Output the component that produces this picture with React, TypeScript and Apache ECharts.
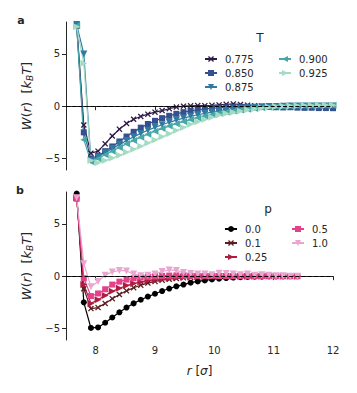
import React, { useEffect, useRef } from "react";
import * as echarts from "echarts";

// r grid (in units of sigma)
const rA = [7.68, 7.80, 7.92, 8.04, 8.16, 8.28, 8.40, 8.52, 8.64, 8.76, 8.88, 9.00, 9.12, 9.24, 9.36, 9.48, 9.60, 9.72, 9.84, 9.96, 10.08, 10.20, 10.32, 10.44, 10.56, 10.68, 10.80, 10.92, 11.04, 11.16, 11.28, 11.40, 11.52, 11.64, 11.76, 11.88, 12.00];
const rB = [7.68, 7.80, 7.92, 8.04, 8.16, 8.28, 8.40, 8.52, 8.64, 8.76, 8.88, 9.00, 9.12, 9.24, 9.36, 9.48, 9.60, 9.72, 9.84, 9.96, 10.08, 10.20, 10.32, 10.44, 10.56, 10.68, 10.80, 10.92, 11.04, 11.16, 11.28, 11.40];

// Panel a: temperature series
const tNames = ["0.775", "0.850", "0.875", "0.900", "0.925"];
const W_T0775 = [7.8, -1.8, -4.5, -4.3, -3.6, -2.85, -2.2, -1.65, -1.25, -0.98, -0.76, -0.57, -0.42, -0.24, -0.08, 0.0, 0.04, 0.06, 0.05, 0.08, 0.12, 0.18, 0.22, 0.16, 0.1, 0.04, 0.0, -0.02, 0.03, 0.05, -0.02, -0.05, -0.08, -0.1, -0.12, -0.12, -0.13];
const W_T0850 = [7.7, -2.5, -5.0, -4.75, -4.3, -3.85, -3.37, -2.9, -2.45, -2.05, -1.7, -1.4, -1.14, -0.92, -0.73, -0.57, -0.44, -0.34, -0.26, -0.2, -0.15, -0.11, -0.08, -0.06, -0.05, -0.07, -0.04, -0.08, -0.1, -0.12, -0.1, -0.14, -0.16, -0.15, -0.18, -0.18, -0.19];
const W_T0875 = [7.8, 5.0, -5.2, -4.85, -4.45, -4.05, -3.65, -3.28, -2.93, -2.6, -2.3, -2.02, -1.77, -1.54, -1.33, -1.14, -0.97, -0.82, -0.68, -0.56, -0.45, -0.36, -0.28, -0.21, -0.16, -0.11, -0.07, -0.04, -0.02, 0.0, 0.01, 0.02, 0.02, 0.03, 0.02, 0.03, 0.03];
const W_T0900 = [7.7, -3.2, -5.3, -5.0, -4.65, -4.3, -3.95, -3.6, -3.28, -2.97, -2.68, -2.4, -2.14, -1.9, -1.68, -1.47, -1.28, -1.1, -0.94, -0.8, -0.67, -0.55, -0.45, -0.36, -0.28, -0.21, -0.15, -0.1, -0.06, -0.03, 0.0, 0.02, 0.03, 0.04, 0.05, 0.06, 0.06];
const W_T0925 = [7.6, 4.1, -5.2, -5.4, -5.2, -4.95, -4.7, -4.4, -4.12, -3.83, -3.52, -3.22, -2.92, -2.63, -2.33, -2.03, -1.73, -1.48, -1.26, -1.05, -0.85, -0.7, -0.57, -0.45, -0.34, -0.25, -0.17, -0.09, -0.03, 0.0, 0.03, 0.05, 0.06, 0.07, 0.08, 0.08, 0.09];

// Panel b: p series
const pNames = ["0.0", "0.1", "0.25", "0.5", "1.0"];
const W_P00 = [7.9, -2.5, -4.95, -4.9, -4.45, -3.95, -3.45, -3.0, -2.6, -2.25, -1.95, -1.68, -1.42, -1.18, -0.97, -0.8, -0.62, -0.5, -0.4, -0.31, -0.24, -0.18, -0.13, -0.09, -0.07, -0.05, -0.04, -0.03, -0.02, -0.02, -0.01, -0.01];
const W_P01 = [7.6, -1.2, -3.1, -3.0, -2.6, -2.15, -1.75, -1.4, -1.1, -0.86, -0.66, -0.5, -0.38, -0.29, -0.22, -0.16, -0.12, -0.09, -0.07, -0.05, -0.04, -0.03, -0.03, -0.02, -0.02, -0.01, -0.01, -0.01, 0.0, 0.0, 0.0, 0.0];
const W_P025 = [7.5, -0.8, -2.6, -2.25, -1.85, -1.45, -1.15, -0.9, -0.7, -0.55, -0.42, -0.33, -0.26, -0.2, -0.15, -0.11, -0.08, -0.06, -0.05, -0.04, -0.03, -0.02, -0.02, -0.01, -0.01, 0.0, 0.0, 0.01, 0.0, 0.0, 0.0, 0.0];
const W_P05 = [7.4, -0.2, -1.9, -1.65, -1.25, -0.8, -0.52, -0.33, -0.2, -0.12, -0.06, -0.02, 0.03, 0.06, 0.08, 0.06, 0.05, 0.04, 0.03, 0.03, 0.02, 0.02, 0.02, 0.01, 0.01, 0.0, 0.01, 0.0, 0.0, 0.0, 0.0, 0.0];
const W_P10 = [7.5, 1.2, -1.0, -0.5, 0.1, 0.4, 0.55, 0.5, 0.2, 0.05, 0.1, 0.22, 0.45, 0.6, 0.55, 0.35, 0.25, 0.2, 0.22, 0.15, 0.28, 0.25, 0.2, 0.15, 0.2, 0.1, 0.15, 0.1, 0.05, 0.05, 0.0, 0.0];

const xTicks = [8, 9, 10, 11, 12];
const yTicks = [-5, 0, 5];

const FONT = "DejaVu Sans";
const TXT = "#262626";
const X_SYM = "path://M0,1.5L1.5,0L5,3.5L8.5,0L10,1.5L6.5,5L10,8.5L8.5,10L5,6.5L1.5,10L0,8.5L3.5,5Z";
const DOWN = "path://M0,0L10,0L5,9Z";
const LEFT = "path://M0,5L9,0L9,10Z";
const RIGHT = "path://M0,0L9,5L0,10Z";

const tColors = ["#2d1b45", "#34508e", "#2f7aa0", "#47a6a8", "#a4dbc3"];
const tSymbols = [X_SYM, "rect", DOWN, LEFT, RIGHT];
const tSizes = [6, 6, 7, 7, 7];
const tData = [W_T0775, W_T0850, W_T0875, W_T0900, W_T0925];

const pColors = ["#000000", "#5a1d1d", "#b01c3f", "#e2428a", "#e8a6d1"];
const pSymbols = ["circle", X_SYM, RIGHT, "rect", DOWN];
const pSizes = [6, 6, 7, 6, 7];
const pData = [W_P00, W_P01, W_P025, W_P05, W_P10];

const minus = (v: number) => (v < 0 ? "\u2212" + Math.abs(v) : String(v));

function mk(name: string, xs: number[], ys: number[], color: string, symbol: string, size: number, idx: number, withLine: boolean) {
  const s: any = {
    name,
    type: "line",
    xAxisIndex: idx,
    yAxisIndex: idx,
    data: xs.map((x, i) => [x, ys[i]]),
    symbol,
    symbolSize: size,
    showSymbol: true,
    lineStyle: { color, width: 1.2 },
    itemStyle: { color },
    color,
    emphasis: { disabled: true },
    clip: true,
  };
  if (withLine) {
    s.markLine = {
      silent: true,
      symbol: ["none", "none"],
      label: { show: false },
      lineStyle: { color: "#000", type: [4, 2.2], width: 1 },
      emphasis: { disabled: true },
      data: [{ yAxis: 0 }],
    };
  }
  return s;
}

const axisLineStyle = { color: TXT, width: 1 };

function xAxisCfg(idx: number, showLabels: boolean) {
  return {
    gridIndex: idx,
    type: "value",
    min: 7.5,
    max: 12,
    splitLine: { show: false },
    axisLine: { show: true, lineStyle: axisLineStyle },
    axisTick: { show: true, customValues: xTicks, length: 4, lineStyle: axisLineStyle },
    axisLabel: {
      show: showLabels,
      customValues: xTicks,
      fontSize: 10,
      fontFamily: FONT,
      color: TXT,
      margin: 5,
    },
    name: showLabels ? "{i|r} [{i|\u03c3}]" : "",
    nameLocation: "middle",
    nameGap: 25,
    nameTextStyle: {
      fontSize: 12,
      fontFamily: FONT,
      color: TXT,
      rich: { i: { fontSize: 12, fontFamily: FONT, fontStyle: "italic", color: TXT } },
    },
  };
}

function yAxisCfg(idx: number) {
  return {
    gridIndex: idx,
    type: "value",
    min: -6.1,
    max: 8.05,
    splitLine: { show: false },
    axisLine: { show: true, lineStyle: axisLineStyle },
    axisTick: { show: true, customValues: yTicks, length: 4, lineStyle: axisLineStyle },
    axisLabel: {
      customValues: yTicks,
      formatter: minus,
      fontSize: 10,
      fontFamily: FONT,
      color: TXT,
      margin: 6,
    },
    name: "{i|W}({i|r})  [{i|k}{s|B}{i|T}]",
    nameLocation: "middle",
    nameGap: 31,
    nameTextStyle: {
      fontSize: 13,
      fontFamily: FONT,
      color: TXT,
      lineHeight: 15,
      rich: {
        i: { fontSize: 13, fontFamily: FONT, fontStyle: "italic", color: TXT, lineHeight: 15 },
        s: { fontSize: 9, fontFamily: FONT, fontStyle: "italic", color: TXT, verticalAlign: "bottom", lineHeight: 15 },
      },
    },
  };
}

function legendCfg(names: string[], left: number, top: number) {
  return {
    data: names,
    orient: "vertical",
    left,
    top,
    itemWidth: 12,
    itemHeight: 7.5,
    itemGap: 4,
    selectedMode: false,
    textStyle: { fontSize: 10, fontFamily: FONT, color: TXT, padding: [0, 0, 0, 3] },
  };
}

function txt(text: string, x: number, y: number, size: number, bold = false) {
  return {
    type: "text",
    x,
    y,
    silent: true,
    style: {
      text,
      fontSize: size,
      fontFamily: FONT,
      fontWeight: bold ? "bold" : "normal",
      fill: TXT,
      align: "center",
      verticalAlign: "middle",
    },
  };
}

export default function App() {
  const ref = useRef<HTMLDivElement>(null);
  useEffect(() => {
    document.body.style.margin = "0";
    const chart = echarts.init(ref.current!, null, { renderer: "svg" });
    const series: any[] = [];
    tNames.forEach((n, i) => series.push(mk(n, rA, tData[i], tColors[i], tSymbols[i], tSizes[i], 0, i === tNames.length - 1)));
    pNames.forEach((n, i) => series.push(mk(n, rB, pData[i], pColors[i], pSymbols[i], pSizes[i], 1, i === pNames.length - 1)));
    chart.setOption({
      animation: false,
      backgroundColor: "#ffffff",
      grid: [
        { left: 66, top: 22, width: 267, height: 148 },
        { left: 66, top: 192, width: 267, height: 148 },
      ],
      xAxis: [xAxisCfg(0, false), xAxisCfg(1, true)],
      yAxis: [yAxisCfg(0), yAxisCfg(1)],
      legend: [
        legendCfg(tNames.slice(0, 3), 199, 49),
        legendCfg(tNames.slice(3), 273, 49),
        legendCfg(pNames.slice(0, 3), 219, 219),
        legendCfg(pNames.slice(3), 286, 219),
      ],
      graphic: [
        txt("a", 21, 20, 11, true),
        txt("b", 20, 190, 11, true),
        txt("T", 260, 38, 12),
        txt("p", 268, 209, 12),
      ],
      series,
    });
    return () => chart.dispose();
  }, []);
  return <div ref={ref} style={{ width: 357, height: 393, position: "absolute", left: 0, top: 0 }} />;
}
